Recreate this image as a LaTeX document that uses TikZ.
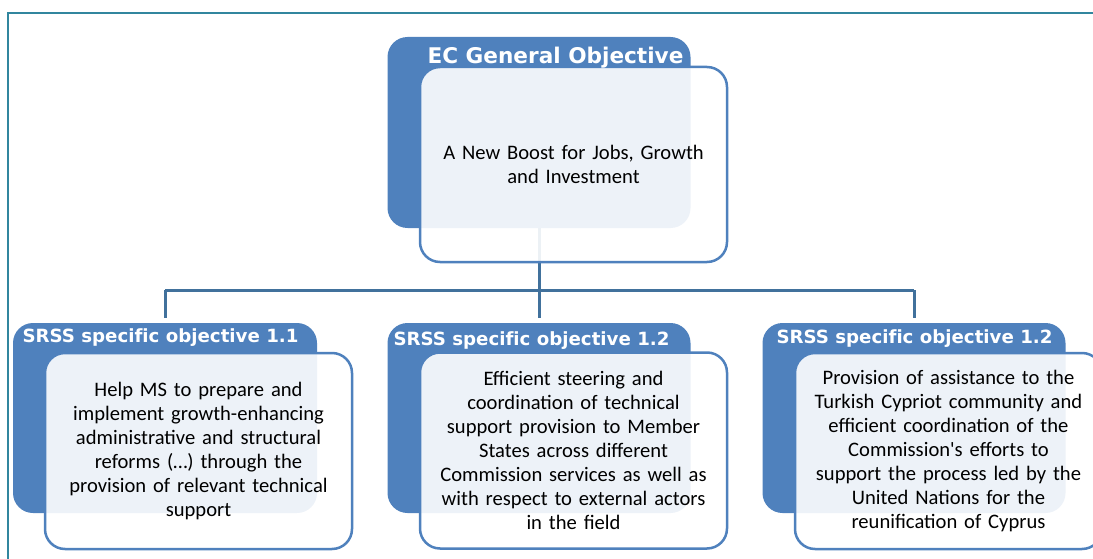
\documentclass[tikz,border=0pt]{standalone}
\usepackage{fontspec}
\setmainfont{Carlito}[Ligatures=TeXOff]
\newfontfamily\headfont{DejaVu Sans}[Ligatures=CommonOff]
\definecolor{boxblue}{HTML}{4F81BD}
\definecolor{linkblue}{HTML}{41719C}
\definecolor{frameteal}{HTML}{31869E}
\begin{document}
\begin{tikzpicture}[x=1pt,y=-1pt,
  darkbox/.style={rectangle, rounded corners=20pt, fill=boxblue, draw=none, inner sep=0pt},
  lightbox/.style={rectangle, rounded corners=20pt, fill=white, fill opacity=0.9, text opacity=1,
    draw=boxblue, line width=2.5pt, inner sep=0pt, minimum width=307pt, minimum height=196pt,
    align=center, text width=300pt, font=\fontsize{20.6}{24}\selectfont},
  headtext/.style={text=white, inner sep=0pt, anchor=base},
  link/.style={draw=linkblue, line width=3pt}]
\useasboundingbox (0,0) rectangle (1093,559);
\clip (0,0) rectangle (1093,559);
% outer frame
\draw[frameteal, line width=2pt] (8,700) -- (8,13) -- (1200,13);

% back panels
\node[darkbox, minimum width=303pt, minimum height=191pt] (gdark) at (539,132.5) {};
\node[darkbox, minimum width=304pt, minimum height=190pt] (adark) at (165,418) {};
\node[darkbox, minimum width=303pt, minimum height=190pt] (bdark) at (539,418) {};
\node[darkbox, minimum width=303pt, minimum height=190pt] (cdark) at (914,418) {};

% connectors
\coordinate (bus) at (0,290);
\draw[link] (adark.north |- bus) -- (cdark.north |- bus);
\draw[link, shorten >=5pt] (gdark.south) -- (bdark.north);
\draw[link, shorten >=5pt] (adark.north |- bus) -- (adark.north);
\draw[link, shorten >=5pt] (cdark.north |- bus) -- (cdark.north);

% front panels with text
\node[lightbox, minimum height=195pt] (glight) at (573.5,164.5)
  {A New Boost for Jobs, Growth\\and Investment};
\node[lightbox] (alight) at (198.5,451)
  {Help MS to prepare and\\implement growth-enhancing\\administrative and structural\\reforms (…) through the\\provision of relevant technical\\support};
\node[lightbox] (blight) at (573.5,450.5)
  {Efficient steering and\\coordination of technical\\support provision to Member\\States across different\\Commission services as well as\\with respect to external actors\\in the field};
\node[lightbox] (clight) at (948.5,451)
  {Provision of assistance to the\\Turkish Cypriot community and\\efficient coordination of the\\Commission's efforts to\\support the process led by the\\United Nations for the\\reunification of Cyprus};

% headings
\node[headtext, font=\headfont\bfseries\fontsize{21.6}{24}\selectfont] (ghead) at (555.5,63.5) {EC General Objective};
\node[headtext, font=\headfont\bfseries\fontsize{18.2}{20}\selectfont] (ahead) at (160.5,342) {SRSS specific objective 1.1};
\node[headtext, font=\headfont\bfseries\fontsize{18.2}{20}\selectfont] (bhead) at (531.5,345) {SRSS specific objective 1.2};
\node[headtext, font=\headfont\bfseries\fontsize{18.2}{20}\selectfont] (chead) at (914.5,343.5) {SRSS specific objective 1.2};
\end{tikzpicture}
\end{document}
